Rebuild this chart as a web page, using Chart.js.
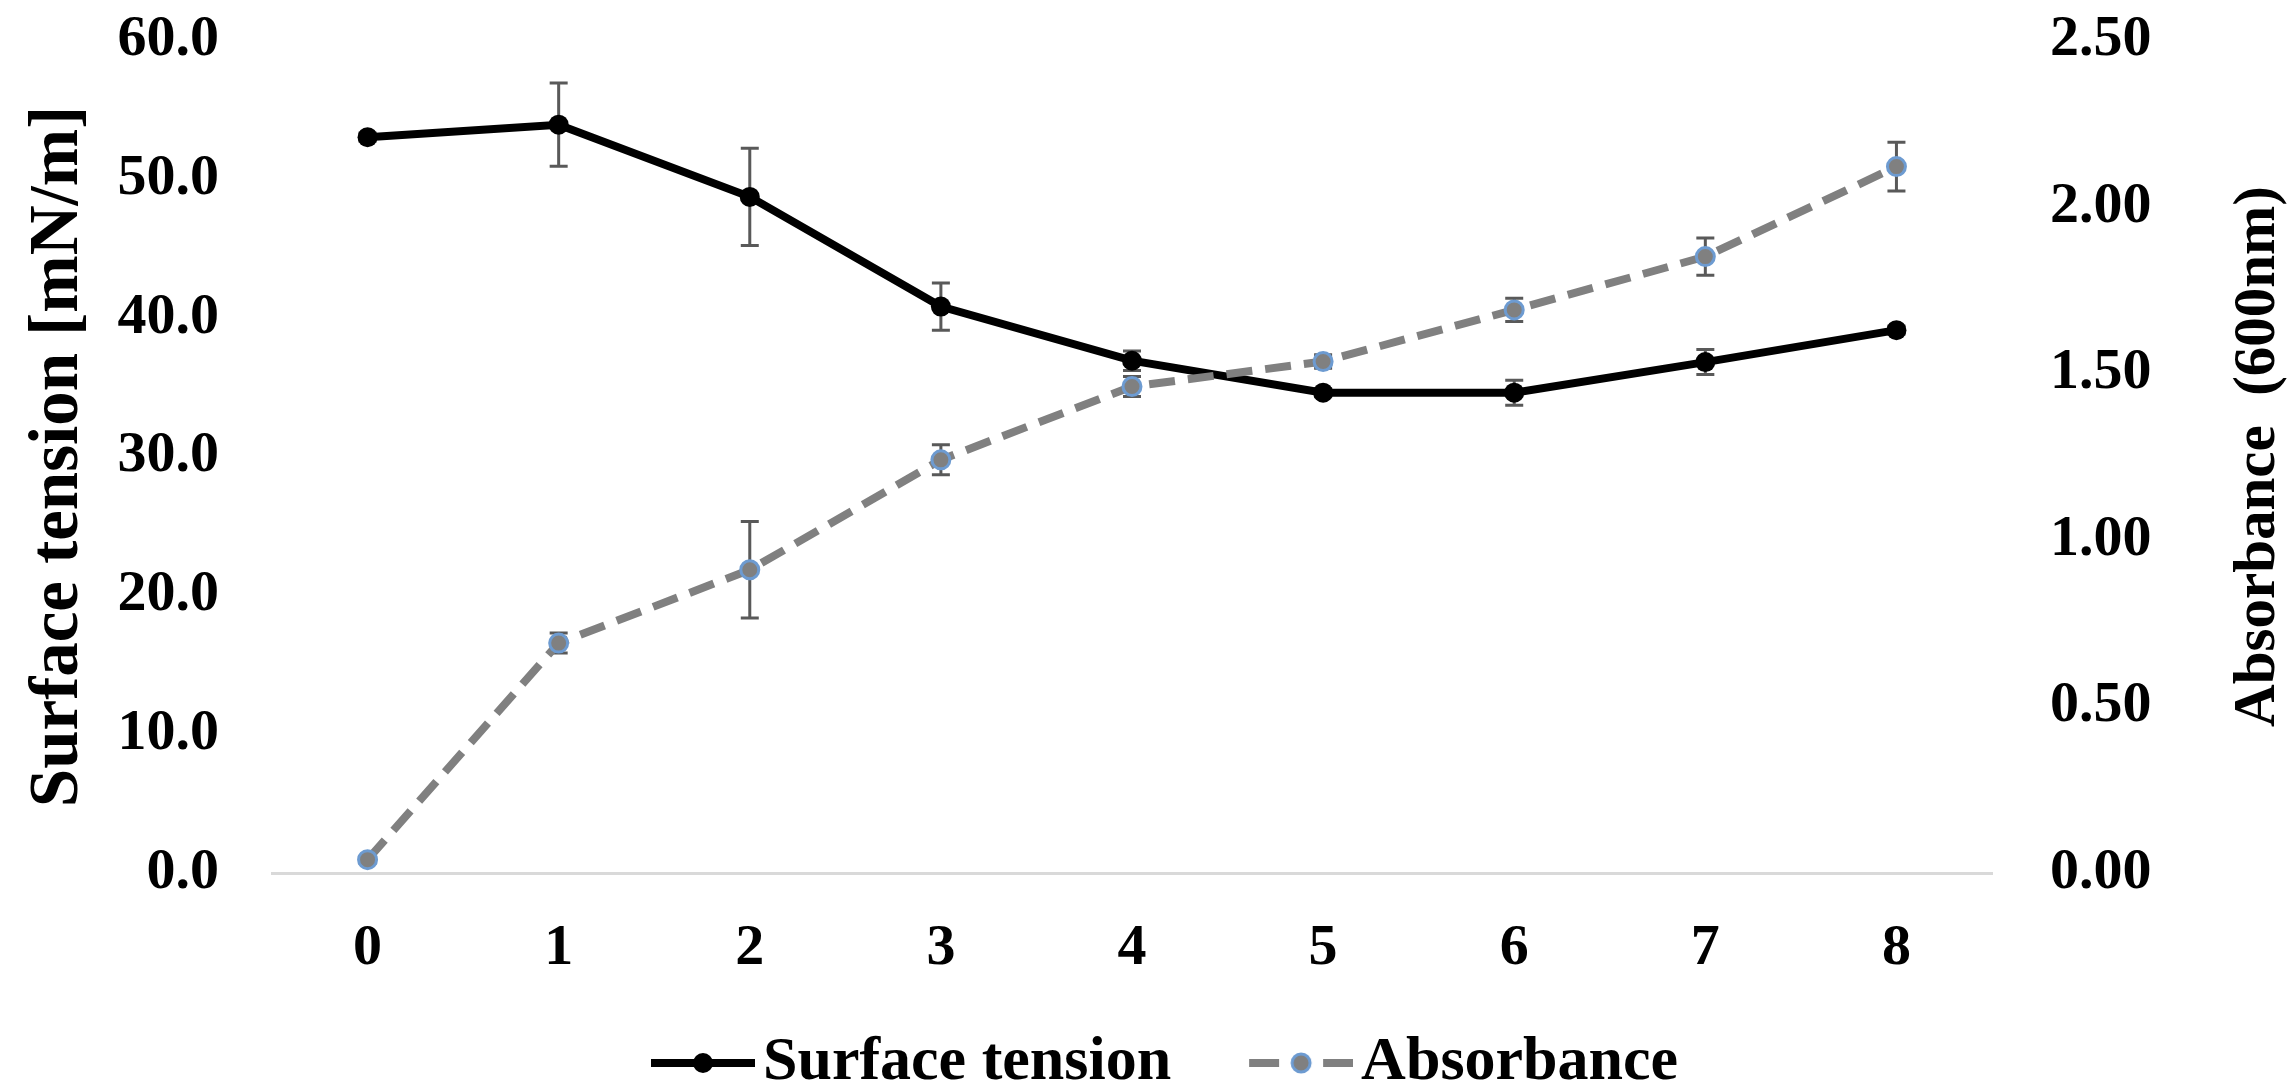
<!DOCTYPE html>
<html>
<head>
<meta charset="utf-8">
<title>Surface tension and absorbance</title>
<script src="https://cdn.jsdelivr.net/npm/chart.js@4.4.1/dist/chart.umd.min.js"></script>
<style>
  html, body { margin: 0; padding: 0; background: #fff; }
  #wrap { width: 2293px; height: 1090px; }
</style>
</head>
<body>
<div id="wrap"><canvas id="chart" width="2293" height="1090"></canvas></div>
<script>
(function() {
  'use strict';

  // Data
  const categories = ['0', '1', '2', '3', '4', '5', '6', '7', '8'];
  const surfaceTension = [53.0, 53.9, 48.7, 40.8, 36.9, 34.6, 34.6, 36.8, 39.1];
  const surfaceTensionErr = [0.3, 3.0, 3.5, 1.7, 0.7, 0.3, 0.9, 0.9, 0.3];
  const absorbance = [0.04, 0.69, 0.91, 1.24, 1.46, 1.535, 1.69, 1.85, 2.12];
  const absorbanceErr = [0.01, 0.03, 0.145, 0.045, 0.03, 0.02, 0.035, 0.056, 0.073];

  const FONT = "'Liberation Serif', 'Times New Roman', serif";
  const colors = {
    text: '#000000',
    surface: '#000000',
    absorbance: '#808080',
    absorbanceRing: '#6d9bd1',
    errorBar: '#595959',
    axis: '#d9d9d9'
  };

  // Legend symbols: line with a marker in the middle.
  // Transparent margin on the left shifts the symbol inside the legend box.
  const ICON_MARGIN = 59;
  function legendIcon(kind) {
    const c = document.createElement('canvas');
    c.width = 104 + ICON_MARGIN;
    c.height = 30;
    const g = c.getContext('2d');
    g.translate(ICON_MARGIN, 0);
    g.lineWidth = 8;
    if (kind === 'surface') {
      g.strokeStyle = colors.surface;
      g.beginPath();
      g.moveTo(0, 15);
      g.lineTo(104, 15);
      g.stroke();
      g.fillStyle = colors.surface;
      g.beginPath();
      g.arc(52, 15, 10, 0, Math.PI * 2);
      g.fill();
    } else {
      g.strokeStyle = colors.absorbance;
      g.beginPath();
      g.moveTo(0, 15);
      g.lineTo(30, 15);
      g.moveTo(74, 15);
      g.lineTo(104, 15);
      g.stroke();
      g.fillStyle = colors.absorbance;
      g.strokeStyle = colors.absorbanceRing;
      g.lineWidth = 3;
      g.beginPath();
      g.arc(52, 15, 9, 0, Math.PI * 2);
      g.fill();
      g.stroke();
    }
    return c;
  }
  const legendIcons = [legendIcon('surface'), legendIcon('absorbance')];

  // Vertical error bars with caps, drawn under the lines
  const errorBarPlugin = {
    id: 'errorBars',
    beforeDatasetsDraw(chart, args, opts) {
      const ctx = chart.ctx;
      chart.data.datasets.forEach(function(ds, di) {
        const meta = chart.getDatasetMeta(di);
        const yScale = chart.scales[ds.yAxisID];
        ctx.save();
        ctx.strokeStyle = opts.color;
        ctx.lineWidth = opts.width;
        meta.data.forEach(function(pt, i) {
          const e = ds.errors[i];
          const top = yScale.getPixelForValue(ds.data[i] + e);
          const bot = yScale.getPixelForValue(ds.data[i] - e);
          ctx.beginPath();
          ctx.moveTo(pt.x, top);
          ctx.lineTo(pt.x, bot);
          ctx.moveTo(pt.x - opts.cap, top);
          ctx.lineTo(pt.x + opts.cap, top);
          ctx.moveTo(pt.x - opts.cap, bot);
          ctx.lineTo(pt.x + opts.cap, bot);
          ctx.stroke();
        });
        ctx.restore();
      });
    }
  };

  // Right axis title reads bottom-to-top, so draw it ourselves
  const rightTitlePlugin = {
    id: 'rightTitle',
    afterDraw(chart, args, opts) {
      const ctx = chart.ctx;
      const area = chart.chartArea;
      ctx.save();
      ctx.translate(chart.width - opts.offset, (area.top + area.bottom) / 2);
      ctx.rotate(-Math.PI / 2);
      ctx.font = 'bold ' + opts.size + 'px ' + FONT;
      ctx.fillStyle = colors.text;
      ctx.textAlign = 'center';
      ctx.textBaseline = 'middle';
      ctx.fillText(opts.text, 0, 0);
      ctx.restore();
    }
  };

  const tickFont = { family: FONT, size: 58, weight: 'bold' };

  // fixed box sizes so the plot area lands where the original has it
  function fixWidth(w) {
    return function(scale) {
      scale.width = w;
      scale.paddingTop = 0;
      scale.paddingBottom = 0;
    };
  }

  new Chart(document.getElementById('chart'), {
    type: 'line',
    data: {
      labels: categories,
      datasets: [{
        label: 'Surface tension',
        data: surfaceTension,
        errors: surfaceTensionErr,
        yAxisID: 'y',
        order: 1,
        borderColor: colors.surface,
        borderWidth: 8,
        tension: 0,
        pointRadius: 10,
        pointBorderWidth: 0,
        pointBackgroundColor: colors.surface,
        pointBorderColor: colors.surface
      }, {
        label: 'Absorbance',
        data: absorbance,
        errors: absorbanceErr,
        yAxisID: 'y1',
        order: 0,
        borderColor: colors.absorbance,
        borderWidth: 8,
        borderDash: [26, 13],
        tension: 0,
        pointRadius: 9,
        pointBorderWidth: 3,
        pointBackgroundColor: colors.absorbance,
        pointBorderColor: colors.absorbanceRing
      }]
    },
    options: {
      responsive: false,
      animation: false,
      devicePixelRatio: 1,
      events: [],
      layout: {
        padding: { top: 40, right: 0, bottom: -14, left: 0 }
      },
      plugins: {
        tooltip: { enabled: false },
        legend: {
          position: 'bottom',
          labels: {
            usePointStyle: true,
            pointStyleWidth: 117,
            padding: 42,
            color: colors.text,
            font: { family: FONT, size: 62, weight: 'bold' },
            generateLabels: function(chart) {
              return chart.data.datasets.map(function(ds, i) {
                return {
                  text: ds.label,
                  pointStyle: legendIcons[i],
                  fillStyle: ds.borderColor,
                  strokeStyle: ds.borderColor,
                  lineWidth: 0,
                  hidden: false,
                  datasetIndex: i
                };
              });
            }
          }
        },
        errorBars: { color: colors.errorBar, width: 3, cap: 9 },
        rightTitle: { text: 'Absorbance  (600nm)', size: 59, offset: 34 }
      },
      scales: {
        x: {
          type: 'category',
          offset: true,
          grid: { display: false, drawTicks: false },
          border: { display: true, color: colors.axis, width: 3 },
          ticks: { padding: 41, color: colors.text, font: tickFont },
          afterFit: function(scale) {
            scale.height = 117;
            scale.paddingLeft = 0;
            scale.paddingRight = 0;
          }
        },
        y: {
          position: 'left',
          min: 0,
          max: 60,
          grid: { display: false, drawTicks: false },
          border: { display: false },
          ticks: {
            stepSize: 10,
            padding: 53,
            color: colors.text,
            font: tickFont,
            callback: function(v) { return v.toFixed(1); }
          },
          title: {
            display: true,
            text: 'Surface tension [mN/m]',
            color: colors.text,
            font: { family: FONT, size: 69, weight: 'bold' },
            padding: { top: 18, bottom: 0 }
          },
          afterFit: fixWidth(272)
        },
        y1: {
          position: 'right',
          min: 0,
          max: 2.5,
          grid: { display: false, drawTicks: false },
          border: { display: false },
          ticks: {
            stepSize: 0.5,
            padding: 58,
            color: colors.text,
            font: tickFont,
            callback: function(v) { return v.toFixed(2); }
          },
          afterFit: fixWidth(301)
        }
      }
    },
    plugins: [errorBarPlugin, rightTitlePlugin]
  });
})();
</script>
</body>
</html>
